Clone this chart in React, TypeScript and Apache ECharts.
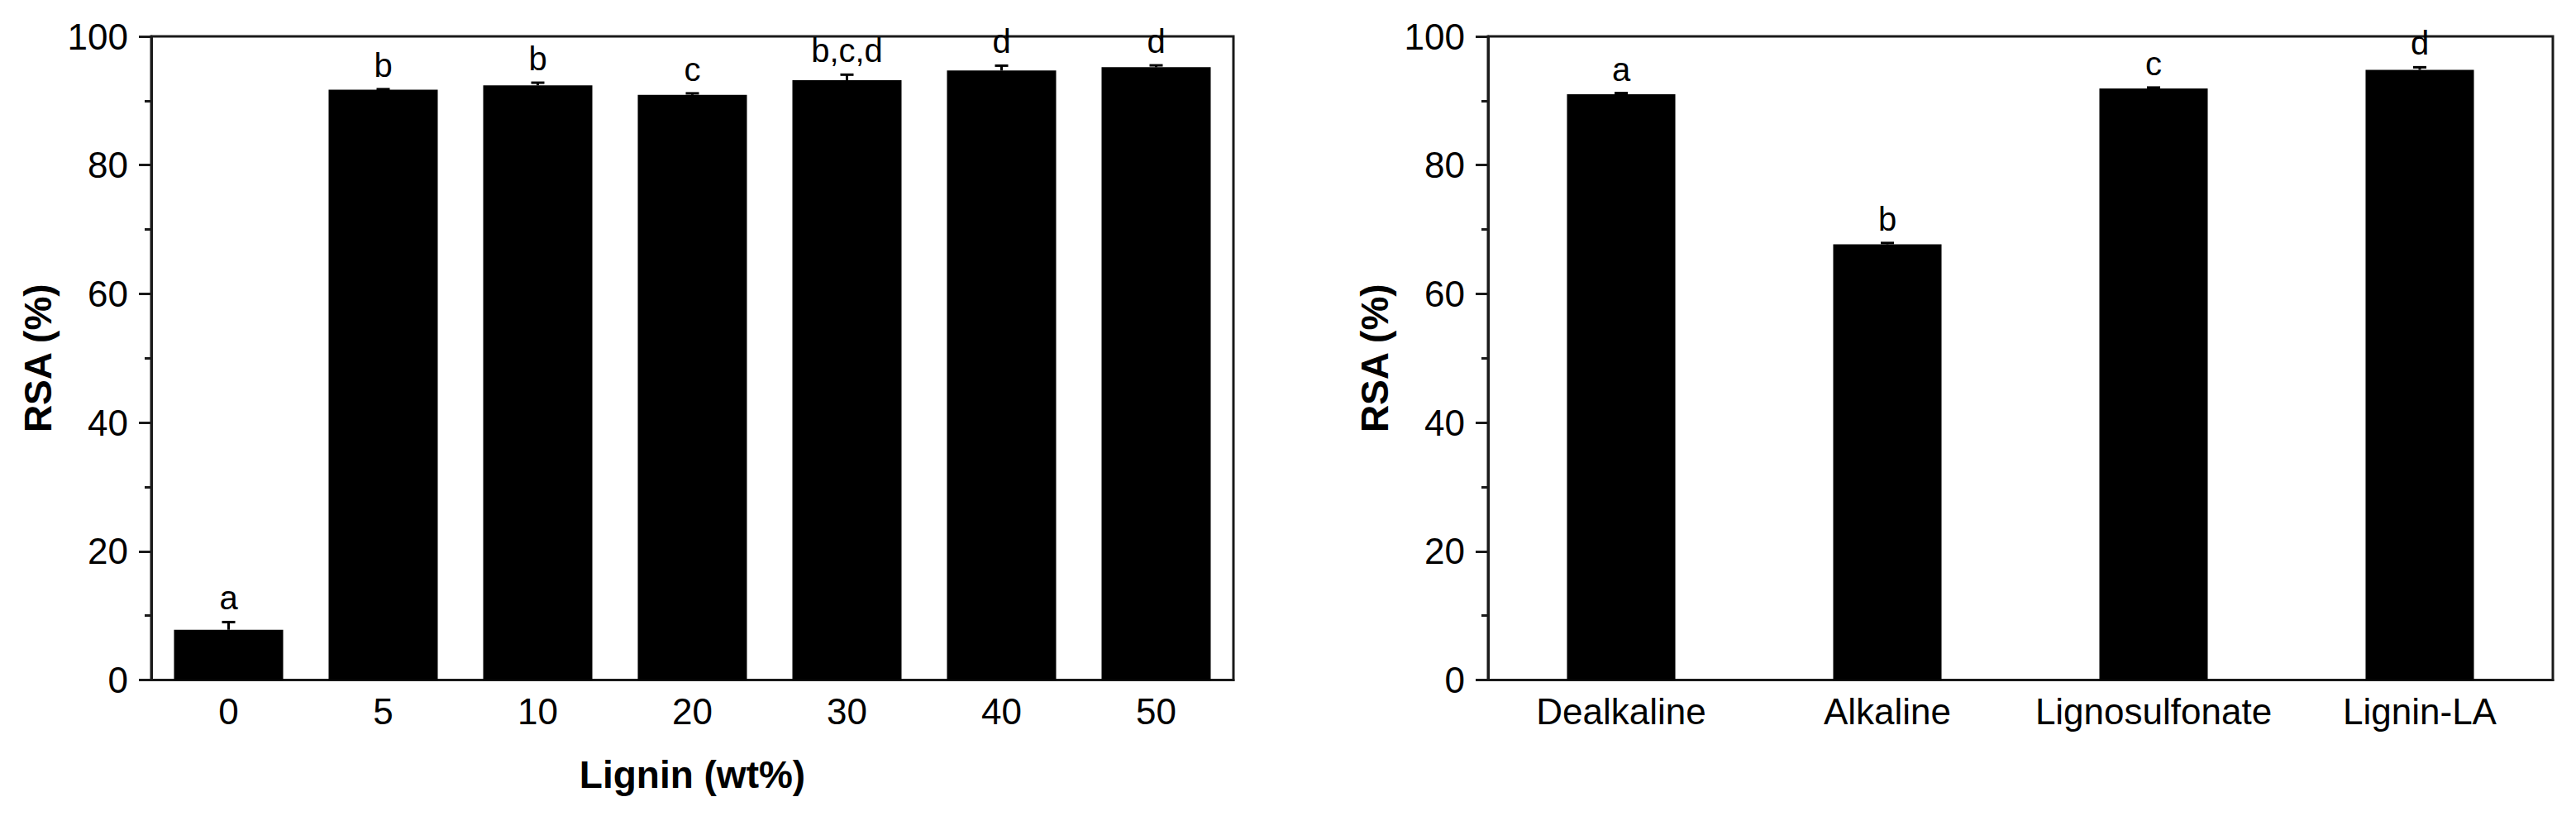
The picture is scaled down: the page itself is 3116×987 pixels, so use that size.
import React, { useEffect, useRef } from "react";
import * as echarts from "echarts";

// Left panel: lignin content
const ligninLevels = ["0", "5", "10", "20", "30", "40", "50"];
const ligninRSA = [7.8, 91.7, 92.4, 90.9, 93.2, 94.7, 95.2];
const ligninErr = [1.2, 0.1, 0.4, 0.25, 0.85, 0.75, 0.3];
const ligninLetters = ["a", "b", "b", "c", "b,c,d", "d", "d"];

// Right panel: lignin type
const ligninTypes = ["Dealkaline", "Alkaline", "Lignosulfonate", "Lignin-LA"];
const typeRSA = [91.0, 67.7, 91.9, 94.8];
const typeErr = [0.2, 0.2, 0.15, 0.4];
const typeLetters = ["a", "b", "c", "d"];

const FONT = '"Liberation Sans", Arial, Helvetica, sans-serif';
const LINE = "#1a1a1a";

function errRender(letters: string[]) {
  return (params: any, api: any) => {
    const i = api.value(0);
    const mean = api.value(1);
    const err = api.value(2);
    const base = api.coord([i, mean]);
    const top = api.coord([i, mean + err]);
    return {
      type: "group",
      children: [
        {
          type: "line",
          shape: { x1: top[0], y1: base[1], x2: top[0], y2: top[1] },
          style: { stroke: "#000", lineWidth: 3 },
        },
        {
          type: "line",
          shape: { x1: top[0] - 8, y1: top[1], x2: top[0] + 8, y2: top[1] },
          style: { stroke: "#000", lineWidth: 3 },
        },
        {
          type: "text",
          style: {
            text: letters[params.dataIndex],
            x: top[0],
            y: top[1] - 9,
            fill: "#000",
            fontSize: 40,
            fontFamily: FONT,
            align: "center",
            verticalAlign: "bottom",
          },
        },
      ],
    };
  };
}

function yAxisCfg(gridIndex: number) {
  return {
    type: "value",
    gridIndex,
    min: 0,
    max: 100,
    interval: 20,
    name: "RSA (%)",
    nameLocation: "middle",
    nameGap: 114,
    nameTextStyle: { fontSize: 46, fontWeight: "bold", fontFamily: FONT, color: "#000" },
    axisLine: { show: true, lineStyle: { color: LINE, width: 3 } },
    axisTick: { show: true, length: 15, lineStyle: { color: LINE, width: 3 } },
    minorTick: { show: true, splitNumber: 2, length: 8, lineStyle: { color: LINE, width: 3 } },
    splitLine: { show: false },
    axisLabel: { fontSize: 44, fontFamily: FONT, color: "#000", margin: 28 },
  };
}

function xAxisCfg(gridIndex: number, data: string[], name: string) {
  return {
    type: "category",
    gridIndex,
    data,
    name,
    nameLocation: "middle",
    nameGap: 91,
    nameTextStyle: { fontSize: 46, fontWeight: "bold", fontFamily: FONT, color: "#000" },
    axisLine: { show: true, lineStyle: { color: LINE, width: 3 } },
    axisTick: { show: false },
    axisLabel: { fontSize: 44, fontFamily: FONT, color: "#000", margin: 16, interval: 0 },
  };
}

export default function App() {
  const ref = useRef<HTMLDivElement>(null);
  useEffect(() => {
    if (!ref.current) return;
    const chart = echarts.init(ref.current, undefined, { renderer: "svg" });
    chart.setOption({
      animation: false,
      backgroundColor: "#fff",
      grid: [
        { left: 183, top: 44, width: 1309, bottom: 164.5, show: true, borderColor: LINE, borderWidth: 3, backgroundColor: "transparent" },
        { left: 1800, top: 44, width: 1288, bottom: 164.5, show: true, borderColor: LINE, borderWidth: 3, backgroundColor: "transparent" },
      ],
      xAxis: [xAxisCfg(0, ligninLevels, "Lignin (wt%)"), xAxisCfg(1, ligninTypes, "")],
      yAxis: [yAxisCfg(0), yAxisCfg(1)],
      series: [
        {
          type: "bar",
          xAxisIndex: 0,
          yAxisIndex: 0,
          data: ligninRSA,
          barWidth: "70.6%",
          itemStyle: { color: "#000" },
        },
        {
          type: "custom",
          xAxisIndex: 0,
          yAxisIndex: 0,
          z: 5,
          renderItem: errRender(ligninLetters),
          data: ligninRSA.map((v, i) => [i, v, ligninErr[i]]),
        },
        {
          type: "bar",
          xAxisIndex: 1,
          yAxisIndex: 1,
          data: typeRSA,
          barWidth: "40.7%",
          itemStyle: { color: "#000" },
        },
        {
          type: "custom",
          xAxisIndex: 1,
          yAxisIndex: 1,
          z: 5,
          renderItem: errRender(typeLetters),
          data: typeRSA.map((v, i) => [i, v, typeErr[i]]),
        },
      ],
    });
    return () => chart.dispose();
  }, []);
  return (
    <div
      ref={ref}
      style={{ position: "absolute", left: 0, top: 0, width: 3116, height: 987, background: "#fff" }}
    />
  );
}
